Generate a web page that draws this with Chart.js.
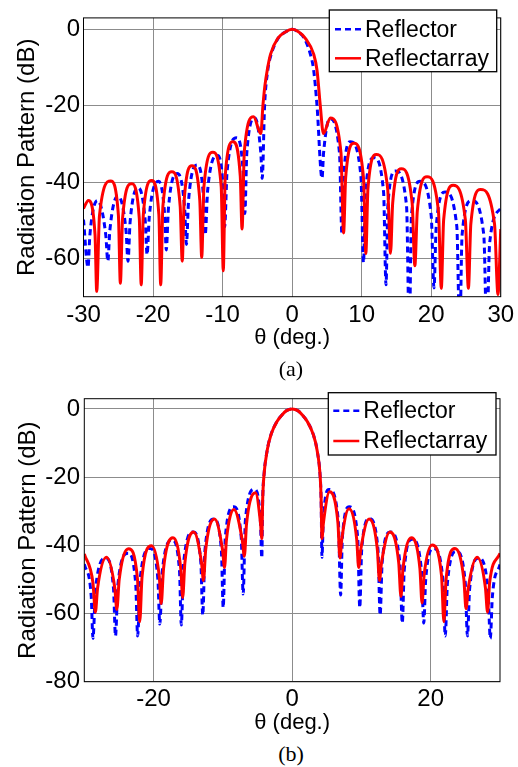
<!DOCTYPE html>
<html>
<head>
<meta charset="utf-8">
<script src="https://cdn.jsdelivr.net/npm/chart.js@4.4.1/dist/chart.umd.min.js"></script>
<style>
html,body{margin:0;padding:0;background:#fff;width:518px;height:767px;overflow:hidden;}
.wrap{position:absolute;left:0;width:518px;height:360px;}
canvas{display:block;}
.cap{position:absolute;left:252px;width:78px;text-align:center;font-family:"Liberation Serif","Times New Roman",serif;font-size:22px;line-height:24px;color:#000;}
</style>
</head>
<body>
<div class="wrap" style="top:0px"><canvas id="ca" width="518" height="360"></canvas></div>
<div class="cap" style="top:357px">(a)</div>
<div class="wrap" style="top:380px"><canvas id="cb" width="518" height="360"></canvas></div>
<div class="cap" style="top:742px">(b)</div>
<script>
// ---------- data ----------
const seriesNames = ['Reflector', 'Reflectarray'];
const xTicksA = [-30, -20, -10, 0, 10, 20, 30];
const yTicksA = [-60, -40, -20, 0];
const xTicksB = [-20, 0, 20];
const yTicksB = [-80, -60, -40, -20, 0];

// (a) Reflectarray
const thetaA_reflectarray = [-30, -29.3, -28.34, -28.1, -27.7, -26.1, -24.98, -24.7, -24.38, -23.1, -21.98, -21.7, -21.4, -20.2, -19.16, -18.9, -18.58, -17.3, -16.1, -15.8, -15.52, -14.4, -13.28, -13.0, -12.68, -11.4, -10.2, -9.9, -9.62, -8.5, -7.46, -7.2, -6.87, -5.55, -4.5, -4.2, -3.92, -3.58, -3.1, -2.06, -0.96, 0, 0.96, 1.9, 3.1, 3.58, 4.05, 4.5, 5.5, 7.02, 7.4, 7.7, 8.9, 10.26, 10.6, 10.9, 12.1, 13.74, 14.15, 14.46, 15.7, 17.26, 17.65, 18.0, 19.4, 21.04, 21.45, 21.79, 23.15, 24.91, 25.35, 25.7, 27.1, 29.1, 29.6, 30];
const dbA_reflectarray = [-46.9, -44.8, -53.8, -68.6, -48.7, -39.7, -48.7, -66.5, -49.4, -40.4, -49.4, -66.9, -48.6, -39.6, -48.6, -66.9, -46.3, -37.3, -46.3, -60.7, -44.7, -35.7, -44.7, -59.7, -41.2, -32.2, -41.2, -63.2, -38.4, -29.4, -38.4, -52.3, -31.9, -22.9, -27.3, -20.0, -14.8, -10.7, -6.5, -2.34, -0.68, 0, -0.68, -2.34, -6.5, -10.7, -20.0, -27.3, -23.2, -32.2, -53.3, -38.8, -29.8, -38.8, -58.7, -41.75, -32.75, -41.75, -58.6, -45.5, -36.5, -45.5, -61.9, -47.6, -38.6, -47.6, -67.8, -49.85, -40.85, -49.85, -67.8, -50.9, -41.9, -50.9, -69.4, -52.3];

// (a) Reflector
const thetaA_reflector = [-30, -29.35, -29.08, -28.0, -26.8, -26.5, -26.21, -25.05, -23.89, -23.6, -23.3, -22.1, -21.11, -20.86, -20.53, -19.2, -18.32, -18.1, -17.78, -16.5, -15.46, -15.2, -14.88, -13.6, -12.72, -12.5, -12.14, -10.7, -9.9, -9.7, -9.36, -8.0, -7.04, -6.8, -6.51, -5.35, -4.51, -4.3, -3.96, -3.5, -3.0, -2.0, -0.96, 0, 0.9, 1.75, 2.62, 3.1, 3.58, 4.3, 4.52, 5.4, 6.81, 7.16, 7.41, 8.4, 9.89, 10.26, 10.56, 11.75, 13.15, 13.5, 13.77, 14.85, 16.45, 16.85, 17.16, 18.4, 20.0, 20.4, 20.72, 22.0, 23.68, 24.1, 24.44, 25.8, 27.56, 28.0, 28.4, 30];
const dbA_reflector = [-49.8, -62.3, -53.8, -44.8, -53.8, -60.7, -52.6, -43.6, -52.6, -60.7, -50.5, -41.5, -50.5, -59.0, -48.8, -39.8, -48.8, -57.75, -46.75, -37.75, -46.75, -56.3, -44.5, -35.5, -44.5, -53.8, -42.0, -33.0, -42.0, -51.7, -37.4, -28.4, -37.4, -48.2, -32.2, -23.2, -32.2, -39.0, -20.0, -10.7, -6.5, -2.34, -0.68, 0, -0.7, -2.34, -6.5, -10.7, -20.0, -39.0, -32.4, -23.4, -32.4, -53.6, -38.4, -29.4, -38.4, -61.1, -42.6, -33.6, -42.6, -66.9, -46.1, -37.1, -46.1, -80, -48.8, -39.8, -48.8, -67.7, -51.6, -42.6, -51.6, -80, -53.8, -44.8, -53.8, -80, -56.0, -46.8];

// (b) Reflectarray
const thetaB_reflectarray = [-30, -28.75, -28.4, -28.08, -26.8, -25.6, -25.3, -24.96, -23.6, -22.32, -22.0, -21.66, -20.3, -19.18, -18.9, -18.56, -17.2, -16.08, -15.8, -15.48, -14.2, -13.08, -12.8, -12.48, -11.2, -10.05, -9.76, -9.49, -8.4, -7.2, -6.9, -6.58, -5.3, -4.56, -4.38, -4.25, -4.09, -3.6, -3.03, -2.16, -1.44, -0.87, 0, 0.87, 1.44, 2.16, 3.03, 3.6, 4.05, 4.18, 4.3, 4.52, 5.4, 6.6, 6.9, 7.16, 8.2, 9.32, 9.6, 9.9, 11.1, 12.3, 12.6, 12.9, 14.1, 15.38, 15.7, 16.0, 17.2, 18.44, 18.75, 19.04, 20.2, 21.56, 21.9, 22.22, 23.5, 24.78, 25.1, 25.42, 26.7, 27.9, 28.2, 28.5, 30];
const dbB_reflectarray = [-42.5, -51.0, -59.6, -52.5, -43.5, -52.5, -58.8, -50.0, -41.0, -50.0, -62.4, -49.1, -40.1, -49.1, -57.1, -46.8, -37.8, -46.8, -55.3, -45.1, -36.1, -45.1, -50.3, -41.3, -32.3, -41.3, -46.5, -38.5, -29.5, -38.5, -43.2, -33.6, -24.6, -33.6, -38.0, -26.3, -20.0, -12.1, -7.4, -3.6, -1.7, -0.57, 0, -0.57, -1.7, -3.6, -7.4, -12.1, -20.0, -26.3, -38.0, -33.3, -24.3, -33.3, -43.7, -38.3, -29.3, -38.3, -46.5, -41.3, -32.3, -41.3, -50.3, -45.1, -36.1, -45.1, -55.0, -46.8, -37.8, -46.8, -56.9, -48.9, -39.9, -48.9, -62.4, -49.9, -40.9, -49.9, -58.6, -52.5, -43.5, -52.5, -59.6, -51.0, -42.3];

// (b) Reflector
const thetaB_reflector = [-30, -29.0, -28.75, -28.38, -26.9, -25.78, -25.5, -25.14, -23.7, -22.58, -22.3, -21.94, -20.5, -19.38, -19.1, -18.74, -17.3, -16.26, -16.0, -15.66, -14.3, -13.18, -12.9, -12.58, -11.3, -10.22, -9.95, -9.65, -8.45, -7.35, -7.07, -6.75, -5.45, -4.59, -4.38, -4.25, -4.09, -3.6, -3.03, -2.16, -1.44, -0.87, 0, 0.87, 1.44, 2.16, 3.03, 3.6, 4.05, 4.18, 4.3, 4.5, 5.3, 6.66, 7.0, 7.25, 8.25, 9.46, 9.76, 10.04, 11.15, 12.39, 12.7, 12.99, 14.15, 15.55, 15.9, 16.18, 17.3, 18.66, 19.0, 19.28, 20.4, 21.76, 22.1, 22.42, 23.7, 24.98, 25.3, 25.62, 26.9, 28.26, 28.6, 28.9, 30];
const dbB_reflector = [-45.5, -55.0, -67.3, -52.8, -43.8, -52.8, -66.6, -51.3, -42.3, -51.3, -66.6, -49.9, -40.9, -49.9, -63.1, -47.5, -38.5, -47.5, -63.4, -45.1, -36.1, -45.1, -60.5, -41.3, -32.3, -41.3, -58.3, -37.7, -28.7, -37.7, -54.3, -32.6, -23.6, -32.6, -43.7, -26.3, -20.0, -12.1, -7.4, -3.6, -1.7, -0.57, 0, -0.57, -1.7, -3.6, -7.4, -12.1, -20.0, -26.3, -43.5, -32.6, -23.6, -32.6, -54.6, -37.7, -28.7, -37.7, -58.3, -41.2, -32.2, -41.2, -60.5, -45.1, -36.1, -45.1, -62.8, -47.2, -38.2, -47.2, -62.8, -49.9, -40.9, -49.9, -66.6, -50.8, -41.8, -50.8, -66.6, -52.7, -43.7, -52.7, -67.3, -55.0, -45.6];

// ---------- rendering ----------
const FONT = "'Liberation Sans', Arial, Helvetica, sans-serif";
Chart.defaults.font.family = FONT;
Chart.defaults.color = '#000';

function zip(xs, ys) { return xs.map((x, i) => ({ x: x, y: ys[i] })); }

const framePlugin = {
  id: 'frameLegend',
  afterDatasetsDraw(chart, args, opts) {
    const ctx = chart.ctx, a = chart.chartArea;
    ctx.save();
    ctx.strokeStyle = '#000';
    ctx.lineWidth = 1;
    ctx.setLineDash([]);
    ctx.strokeRect(a.left, a.top, a.right - a.left, a.bottom - a.top);
    const L = opts.box;
    ctx.fillStyle = '#fff';
    ctx.fillRect(L.x, L.y, L.w, L.h);
    ctx.lineWidth = 1.3;
    ctx.strokeRect(L.x, L.y, L.w, L.h);
    chart.data.datasets.forEach((ds, i) => {
      const y = L.rows[i];
      ctx.beginPath();
      ctx.strokeStyle = ds.borderColor;
      ctx.lineWidth = 2.5;
      ctx.setLineDash(ds.borderDash || []);
      ctx.moveTo(L.lx0, y);
      ctx.lineTo(L.lx1, y);
      ctx.stroke();
      ctx.setLineDash([]);
      ctx.fillStyle = '#000';
      ctx.font = '23px ' + FONT;
      ctx.textBaseline = 'middle';
      ctx.textAlign = 'left';
      ctx.fillText(ds.label, L.tx, y + 1);
    });
    ctx.restore();
  }
};

function makeChart(id, cfg) {
  const gridColor = '#8c8c8c';
  return new Chart(document.getElementById(id), {
    type: 'line',
    data: {
      datasets: [
        { label: seriesNames[0], data: zip(cfg.refT, cfg.refD), borderColor: '#0000ff', borderWidth: 3,
          borderDash: [6, 4], pointRadius: 0, fill: false, cubicInterpolationMode: 'monotone', order: 1 },
        { label: seriesNames[1], data: zip(cfg.raT, cfg.raD), borderColor: '#ff0000', borderWidth: 3,
          pointRadius: 0, fill: false, cubicInterpolationMode: 'monotone', borderJoinStyle: 'round', order: 0 }
      ]
    },
    options: {
      responsive: false,
      animation: false,
      events: [],
      layout: { padding: cfg.pad },
      plugins: { legend: { display: false }, tooltip: { enabled: false }, frameLegend: { box: cfg.box } },
      scales: {
        x: {
          type: 'linear', min: -30, max: 30,
          afterBuildTicks: s => { s.ticks = cfg.xt.map(v => ({ value: v })); },
          afterFit: s => { s.height = cfg.xh; },
          grid: { color: gridColor, lineWidth: 1, drawTicks: false },
          border: { display: false },
          ticks: { padding: cfg.xpad, font: { size: 24 }, color: '#000', autoSkip: false, maxRotation: 0 },
          title: { display: true, text: 'θ (deg.)', font: { size: 22 }, color: '#000', padding: { top: 0, bottom: cfg.xtp } }
        },
        y: {
          type: 'linear', min: cfg.ymin, max: cfg.ymax,
          afterBuildTicks: s => { s.ticks = cfg.yt.map(v => ({ value: v })); },
          afterFit: s => { s.width = cfg.yw; },
          grid: { color: gridColor, lineWidth: 1, drawTicks: false },
          border: { display: false },
          ticks: { padding: cfg.ypad, font: { size: 24 }, color: '#000', autoSkip: false },
          title: { display: true, text: 'Radiation Pattern (dB)', font: { size: 24 }, color: '#000', padding: { top: cfg.ytp, bottom: 0 } }
        }
      }
    },
    plugins: [framePlugin]
  });
}

makeChart('ca', {
  refT: thetaA_reflector, refD: dbA_reflector, raT: thetaA_reflectarray, raD: dbA_reflectarray,
  xt: xTicksA, yt: yTicksA, ymin: -70, ymax: 3,
  pad: { left: 0, right: 16, top: 5.7, bottom: 0 },
  xh: 63.3, yw: 83.5, xpad: 3.9, ypad: 3.5, xtp: 8.8, ytp: 13.1,
  box: { x: 329.3, y: 10, w: 167.4, h: 61.7, rows: [29.3, 58.3], lx0: 335, lx1: 361, tx: 365 }
});

makeChart('cb', {
  refT: thetaB_reflector, refD: dbB_reflector, raT: thetaB_reflectarray, raD: dbB_reflectarray,
  xt: xTicksB, yt: yTicksB, ymin: -80, ymax: 3,
  pad: { left: 0, right: 18, top: 8.7, bottom: 0 },
  xh: 58.3, yw: 84.3, xpad: 3.2, ypad: 4.3, xtp: 3.5, ytp: 13.9,
  box: { x: 328.3, y: 12.7, w: 167.7, h: 62.3, rows: [30.7, 61.0], lx0: 333.3, lx1: 359.3, tx: 363.3 }
});
</script>
</body>
</html>
